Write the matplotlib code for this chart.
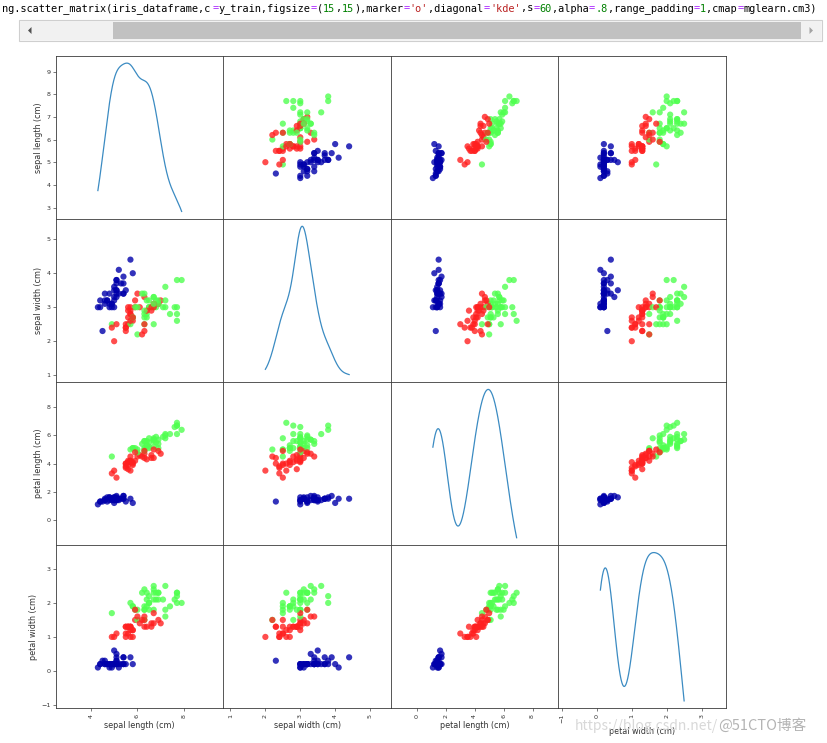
import numpy as np
import matplotlib
matplotlib.use('Agg')
import matplotlib.pyplot as plt
from matplotlib.colors import ListedColormap
from matplotlib.patches import Rectangle, Polygon

# iris measurements, 150 rows in the usual order (50 setosa, 50 versicolor, 50 virginica)
sepal_length = [
    5.1, 4.9, 4.7, 4.6, 5.0, 5.4, 4.6, 5.0, 4.4, 4.9, 5.4, 4.8, 4.8, 4.3, 5.8, 5.7, 5.4, 5.1, 5.7, 5.1,
    5.4, 5.1, 4.6, 5.1, 4.8, 5.0, 5.0, 5.2, 5.2, 4.7, 4.8, 5.4, 5.2, 5.5, 4.9, 5.0, 5.5, 4.9, 4.4, 5.1,
    5.0, 4.5, 4.4, 5.0, 5.1, 4.8, 5.1, 4.6, 5.3, 5.0,
    7.0, 6.4, 6.9, 5.5, 6.5, 5.7, 6.3, 4.9, 6.6, 5.2, 5.0, 5.9, 6.0, 6.1, 5.6, 6.7, 5.6, 5.8, 6.2, 5.6,
    5.9, 6.1, 6.3, 6.1, 6.4, 6.6, 6.8, 6.7, 6.0, 5.7, 5.5, 5.5, 5.8, 6.0, 5.4, 6.0, 6.7, 6.3, 5.6, 5.5,
    5.5, 6.1, 5.8, 5.0, 5.6, 5.7, 5.7, 6.2, 5.1, 5.7,
    6.3, 5.8, 7.1, 6.3, 6.5, 7.6, 4.9, 7.3, 6.7, 7.2, 6.5, 6.4, 6.8, 5.7, 5.8, 6.4, 6.5, 7.7, 7.7, 6.0,
    6.9, 5.6, 7.7, 6.3, 6.7, 7.2, 6.2, 6.1, 6.4, 7.2, 7.4, 7.9, 6.4, 6.3, 6.1, 7.7, 6.3, 6.4, 6.0, 6.9,
    6.7, 6.9, 5.8, 6.8, 6.7, 6.7, 6.3, 6.5, 6.2, 5.9]
sepal_width = [
    3.5, 3.0, 3.2, 3.1, 3.6, 3.9, 3.4, 3.4, 2.9, 3.1, 3.7, 3.4, 3.0, 3.0, 4.0, 4.4, 3.9, 3.5, 3.8, 3.8,
    3.4, 3.7, 3.6, 3.3, 3.4, 3.0, 3.4, 3.5, 3.4, 3.2, 3.1, 3.4, 4.1, 4.2, 3.1, 3.2, 3.5, 3.6, 3.0, 3.4,
    3.5, 2.3, 3.2, 3.5, 3.8, 3.0, 3.8, 3.2, 3.7, 3.3,
    3.2, 3.2, 3.1, 2.3, 2.8, 2.8, 3.3, 2.4, 2.9, 2.7, 2.0, 3.0, 2.2, 2.9, 2.9, 3.1, 3.0, 2.7, 2.2, 2.5,
    3.2, 2.8, 2.5, 2.8, 2.9, 3.0, 2.8, 3.0, 2.9, 2.6, 2.4, 2.4, 2.7, 2.7, 3.0, 3.4, 3.1, 2.3, 3.0, 2.5,
    2.6, 3.0, 2.6, 2.3, 2.7, 3.0, 2.9, 2.9, 2.5, 2.8,
    3.3, 2.7, 3.0, 2.9, 3.0, 3.0, 2.5, 2.9, 2.5, 3.6, 3.2, 2.7, 3.0, 2.5, 2.8, 3.2, 3.0, 3.8, 2.6, 2.2,
    3.2, 2.8, 2.8, 2.7, 3.3, 3.2, 2.8, 3.0, 2.8, 3.0, 2.8, 3.8, 2.8, 2.8, 2.6, 3.0, 3.4, 3.1, 3.0, 3.1,
    3.1, 3.1, 2.7, 3.2, 3.3, 3.0, 2.5, 3.0, 3.4, 3.0]
petal_length = [
    1.4, 1.4, 1.3, 1.5, 1.4, 1.7, 1.4, 1.5, 1.4, 1.5, 1.5, 1.6, 1.4, 1.1, 1.2, 1.5, 1.3, 1.4, 1.7, 1.5,
    1.7, 1.5, 1.0, 1.7, 1.9, 1.6, 1.6, 1.5, 1.4, 1.6, 1.6, 1.5, 1.5, 1.4, 1.5, 1.2, 1.3, 1.4, 1.3, 1.5,
    1.3, 1.3, 1.3, 1.6, 1.9, 1.4, 1.6, 1.4, 1.5, 1.4,
    4.7, 4.5, 4.9, 4.0, 4.6, 4.5, 4.7, 3.3, 4.6, 3.9, 3.5, 4.2, 4.0, 4.7, 3.6, 4.4, 4.5, 4.1, 4.5, 3.9,
    4.8, 4.0, 4.9, 4.7, 4.3, 4.4, 4.8, 5.0, 4.5, 3.5, 3.8, 3.7, 3.9, 5.1, 4.5, 4.5, 4.7, 4.4, 4.1, 4.0,
    4.4, 4.6, 4.0, 3.3, 4.2, 4.2, 4.2, 4.3, 3.0, 4.1,
    6.0, 5.1, 5.9, 5.6, 5.8, 6.6, 4.5, 6.3, 5.8, 6.1, 5.1, 5.3, 5.5, 5.0, 5.1, 5.3, 5.5, 6.7, 6.9, 5.0,
    5.7, 4.9, 6.7, 4.9, 5.7, 6.0, 4.8, 4.9, 5.6, 5.8, 6.1, 6.4, 5.6, 5.1, 5.6, 6.1, 5.6, 5.5, 4.8, 5.4,
    5.6, 5.1, 5.1, 5.9, 5.7, 5.2, 5.0, 5.2, 5.4, 5.1]
petal_width = [
    0.2, 0.2, 0.2, 0.2, 0.2, 0.4, 0.3, 0.2, 0.2, 0.1, 0.2, 0.2, 0.1, 0.1, 0.2, 0.4, 0.4, 0.3, 0.3, 0.3,
    0.2, 0.4, 0.2, 0.5, 0.2, 0.2, 0.4, 0.2, 0.2, 0.2, 0.2, 0.4, 0.1, 0.2, 0.2, 0.2, 0.2, 0.1, 0.2, 0.2,
    0.3, 0.3, 0.2, 0.6, 0.4, 0.3, 0.2, 0.2, 0.2, 0.2,
    1.4, 1.5, 1.5, 1.3, 1.5, 1.3, 1.6, 1.0, 1.3, 1.4, 1.0, 1.5, 1.0, 1.4, 1.3, 1.4, 1.5, 1.0, 1.5, 1.1,
    1.8, 1.3, 1.5, 1.2, 1.3, 1.4, 1.4, 1.7, 1.5, 1.0, 1.1, 1.0, 1.2, 1.6, 1.5, 1.6, 1.5, 1.3, 1.3, 1.3,
    1.2, 1.4, 1.2, 1.0, 1.3, 1.2, 1.3, 1.3, 1.1, 1.3,
    2.5, 1.9, 2.1, 1.8, 2.2, 2.1, 1.7, 1.8, 1.8, 2.5, 2.0, 1.9, 2.1, 2.0, 2.4, 2.3, 1.8, 2.2, 2.3, 1.5,
    2.3, 2.0, 2.0, 1.8, 2.1, 1.8, 1.8, 1.8, 2.1, 1.6, 1.9, 2.0, 2.2, 1.5, 1.4, 2.3, 2.4, 1.8, 1.8, 2.1,
    2.4, 2.3, 1.9, 2.3, 2.5, 2.3, 1.9, 2.0, 2.3, 1.8]
species = [0] * 50 + [1] * 50 + [2] * 50

# rows that went into the training set, in order
train_idx = [61, 92, 112, 2, 141, 43, 10, 60, 116, 144, 119, 108, 69, 135, 56, 80, 123, 133, 106, 146,
             50, 147, 85, 30, 101, 94, 64, 89, 91, 125, 48, 13, 111, 95, 20, 15, 52, 3, 149, 98,
             6, 68, 109, 96, 12, 102, 120, 104, 128, 46, 11, 110, 124, 41, 148, 1, 113, 139, 42, 4,
             129, 17, 38, 5, 53, 143, 105, 0, 34, 28, 55, 75, 35, 23, 74, 31, 118, 57, 131, 65,
             32, 138, 14, 122, 19, 29, 130, 49, 136, 99, 82, 79, 115, 145, 72, 77, 25, 81, 140, 142,
             39, 58, 88, 70, 87, 36, 21, 9, 103, 67, 117, 47]

feature_names = ['sepal length (cm)', 'sepal width (cm)', 'petal length (cm)', 'petal width (cm)']
cm3 = ListedColormap(['#0000aa', '#ff2020', '#50ff50'])

code_tokens = [
    ('ng.scatter_matrix(iris_dataframe,c', 'k'), ('=', '#aa22ff'), ('y_train,figsize', 'k'),
    ('=', '#aa22ff'), ('(', 'k'), ('15', '#008000'), (',', 'k'), ('15', '#008000'), ('),marker', 'k'),
    ('=', '#aa22ff'), ("'o'", '#ba2121'), (',diagonal', 'k'), ('=', '#aa22ff'), ("'kde'", '#ba2121'),
    (',s', 'k'), ('=', '#aa22ff'), ('60', '#008000'), (',alpha', 'k'), ('=', '#aa22ff'), ('.8', '#008000'),
    (',range_padding', 'k'), ('=', '#aa22ff'), ('1', '#008000'), (',cmap', 'k'), ('=', '#aa22ff'),
    ('mglearn.cm3)', 'k')]

W, H = 828, 743
plt.rcParams['font.size'] = 5.8
plt.rcParams['axes.linewidth'] = 0.6
plt.rcParams['axes.edgecolor'] = '#3a3a3a'
plt.rcParams['axes.labelpad'] = 2.3
for a in ('xtick', 'ytick'):
    plt.rcParams[a + '.major.size'] = 2.0
    plt.rcParams[a + '.major.width'] = 0.5
    plt.rcParams[a + '.major.pad'] = 2.0
    plt.rcParams[a + '.color'] = '#444444'
    plt.rcParams[a + '.labelcolor'] = '#333333'
plt.rcParams['axes.labelcolor'] = '#333333'

cols = [np.array(v)[train_idx] for v in (sepal_length, sepal_width, petal_length, petal_width)]
y_train = np.array(species)[train_idx]
n = len(cols)

fig = plt.figure(figsize=(W / 100, H / 100), dpi=100)
axes = fig.subplots(n, n, squeeze=False)
fig.subplots_adjust(left=56 / W, right=726 / W, top=1 - 55.7 / H, bottom=1 - 708.3 / H,
                    wspace=0, hspace=0)

# range_padding=1 -> half the data range added on each side
bounds = []
for v in cols:
    ext = (v.max() - v.min()) * 1 / 2
    bounds.append((v.min() - ext, v.max() + ext))


def kde(v, grid):
    # gaussian kde, scott bandwidth
    bw = len(v) ** (-1 / 5) * v.std(ddof=1)
    z = (grid[:, None] - v[None, :]) / bw
    return np.exp(-0.5 * z ** 2).sum(axis=1) / (len(v) * bw * np.sqrt(2 * np.pi))


for i in range(n):
    for j in range(n):
        ax = axes[i, j]
        if i == j:
            v = cols[i]
            ind = np.linspace(v.min(), v.max(), 1000)
            ax.plot(ind, kde(v, ind), color='#3b8bc2', lw=0.9)
            ax.set_xlim(bounds[i])
        else:
            ax.scatter(cols[j], cols[i], c=y_train, cmap=cm3, marker='o', s=20,
                       alpha=0.8, edgecolors='none')
            ax.set_xlim(bounds[j])
            ax.set_ylim(bounds[i])
        ax.set_xlabel(feature_names[j])
        ax.set_ylabel(feature_names[i])
        if j != 0:
            ax.yaxis.set_visible(False)
        if i != n - 1:
            ax.xaxis.set_visible(False)

# top-left diagonal: show sepal length ticks as in the row next to it
lim1 = bounds[0]
locs = axes[0][1].yaxis.get_majorticklocs()
locs = locs[(lim1[0] <= locs) & (locs <= lim1[1])]
adj = (locs - lim1[0]) / (lim1[1] - lim1[0])
lim0 = axes[0][0].get_ylim()
axes[0][0].yaxis.set_ticks(adj * (lim0[1] - lim0[0]) + lim0[0])
axes[0][0].yaxis.set_ticklabels([str(int(t)) for t in locs])

for ax in axes.flat:
    for lab in ax.get_xticklabels():
        lab.set_rotation(90)
        lab.set_fontsize(4.6)
    for lab in ax.get_yticklabels():
        lab.set_fontsize(4.6)

# notebook code cell strip and watermark, drawn in pixel coordinates
over = fig.add_axes([0, 0, 1, 1], zorder=-1)
over.set_xlim(0, W)
over.set_ylim(H, 0)
over.set_axis_off()
over.add_patch(Rectangle((19, 19.5), 803, 21.5, facecolor='#f7f7f7', edgecolor='#cfcfcf', lw=0.8))
over.add_patch(Rectangle((20, 20.5), 801, 19, facecolor='#f1f1f1', edgecolor='none'))
over.add_patch(Rectangle((113, 22.3), 688, 16.5, facecolor='#c1c1c1', edgecolor='none'))
over.add_patch(Polygon([(28, 30.5), (31.5, 27), (31.5, 34)], closed=True, facecolor='#505050', edgecolor='none'))
over.add_patch(Polygon([(813, 30.5), (809.5, 27), (809.5, 34)], closed=True, facecolor='#a3a3a3', edgecolor='none'))

fs_code = 7.39
cw = 0.602 * fs_code * 100 / 72
x0 = 2
for tok, col in code_tokens:
    over.text(x0, 8.5, tok, family='DejaVu Sans Mono', fontsize=fs_code, color=col, va='center', ha='left')
    x0 += cw * len(tok)

fig.text(575 / W, 1 - 726 / H, 'https://blog.csdn.net/', fontsize=10, color='#d8d8d8',
         va='center', ha='left', family=['Noto Sans CJK SC', 'DejaVu Sans'])
fig.text(718 / W, 1 - 726 / H, '@51CTO博客', fontsize=10.5, color='#b4b4b4',
         va='center', ha='left', family=['Noto Sans CJK SC', 'DejaVu Sans'])

fig.savefig('out.png', dpi=100)
